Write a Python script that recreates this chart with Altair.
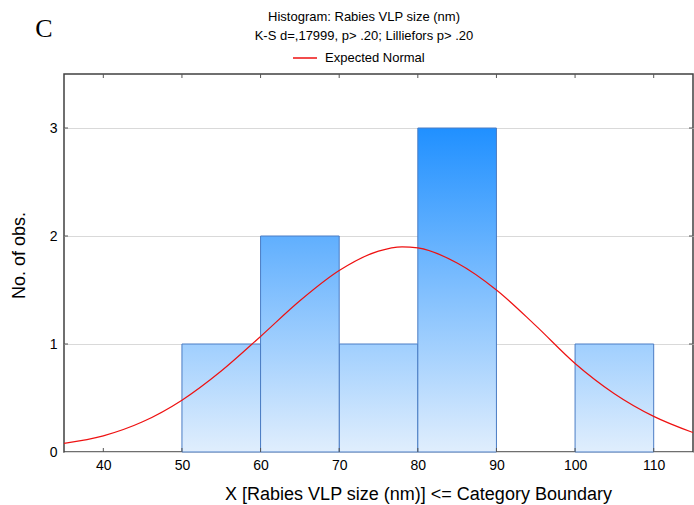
import altair as alt
import pandas as pd

# ---- data ----
bin_start = [50, 60, 70, 80, 90, 100]
bin_end = [60, 70, 80, 90, 100, 110]
counts = [1, 2, 1, 3, 0, 1]

curve_x = [35, 40, 45, 50, 55, 60, 65, 70, 75, 78, 80, 85, 90, 95, 100, 105, 110, 115]
curve_y = [0.08, 0.15, 0.28, 0.48, 0.75, 1.07, 1.40, 1.68, 1.86, 1.90, 1.89, 1.75,
           1.50, 1.17, 0.82, 0.54, 0.33, 0.18]

x_ticks = [40, 50, 60, 70, 80, 90, 100, 110]
y_ticks = [0, 1, 2, 3]

title_line1 = ["Histogram: Rabies VLP size (nm)"]
title_line2 = ["K-S d=,17999, p> .20; Lilliefors p> .20"]
panel_letter = ["C"]
legend_label = "Expected Normal"
x_title = "X [Rabies VLP size (nm)] <= Category Boundary"
y_title = "No. of obs."

# ---- layout / style ----
W, H = 629, 378
FONT = "Liberation Sans"
bottom_color = "#e0eefd"
top_colors = {1: "#a0cffe", 2: "#60affe", 3: "#2090ff"}

bars = pd.DataFrame({"start": bin_start, "end": bin_end, "count": counts})
curve = pd.DataFrame({"x": curve_x, "y": curve_y, "series": [legend_label] * len(curve_x)})

xscale = alt.Scale(domain=[35, 115], nice=False, zero=False)
yscale = alt.Scale(domain=[0, 3.5], nice=False, zero=True)

x_axis = alt.Axis(values=x_ticks, title=x_title, titleFont=FONT, titleFontSize=18,
                  titleFontWeight="normal", titleColor="#000", labelFont=FONT,
                  labelFontSize=14, labelColor="#000", labelPadding=6, ticks=False,
                  domain=False, grid=False, titleX=354, titleY=47, titleAlign="center",
                  titleBaseline="alphabetic", format="d")
y_axis = alt.Axis(values=y_ticks, title=y_title, titleFont=FONT, titleFontSize=18,
                  titleFontWeight="normal", titleColor="#000", labelFont=FONT,
                  labelFontSize=14, labelColor="#000", labelPadding=7, ticks=False,
                  domain=False, grid=True, gridColor="#d9d9d9", gridWidth=1,
                  titleX=-45, titleY=181, titleAngle=270, titleAlign="center",
                  titleBaseline="middle", format="d")

layers = []
for k, c in top_colors.items():
    grad = alt.LinearGradient(
        gradient="linear", x1=0, y1=1, x2=0, y2=0,
        stops=[alt.GradientStop(offset=0, color=bottom_color),
               alt.GradientStop(offset=1, color=c)])
    layers.append(
        alt.Chart(bars).transform_filter(alt.datum["count"] == k)
        .mark_rect(fill=grad, stroke="#4a7cc4", strokeWidth=1)
        .encode(x=alt.X("start:Q", scale=xscale, axis=x_axis),
                x2="end:Q",
                y=alt.Y("count:Q", scale=yscale, axis=y_axis),
                y2=alt.Y2(datum=0))
    )

line = alt.Chart(curve).mark_line(strokeWidth=1.2, interpolate="monotone", clip=True).encode(
    x=alt.X("x:Q", scale=xscale, axis=x_axis),
    y=alt.Y("y:Q", scale=yscale, axis=y_axis),
    color=alt.Color("series:N",
                    scale=alt.Scale(domain=[legend_label], range=["#ee1111"]),
                    legend=alt.Legend(title=None, orient="none", legendX=228, legendY=-29,
                                      symbolType="stroke", symbolSize=576,
                                      symbolStrokeWidth=1.5, labelFont=FONT,
                                      labelFontSize=13, labelColor="#000",
                                      labelOffset=7, padding=0)),
)
layers.append(line)

tick_df = pd.DataFrame({"v": x_ticks})
ytick_df = pd.DataFrame({"v": y_ticks[1:]})
tick_color = "#555555"
layers.append(alt.Chart(tick_df).mark_rule(color=tick_color).encode(
    x=alt.X("v:Q", scale=xscale, axis=x_axis), y=alt.value(0), y2=alt.value(4)))
layers.append(alt.Chart(tick_df).mark_rule(color=tick_color).encode(
    x=alt.X("v:Q", scale=xscale, axis=x_axis), y=alt.value(H), y2=alt.value(H - 4)))
layers.append(alt.Chart(ytick_df).mark_rule(color=tick_color).encode(
    y=alt.Y("v:Q", scale=yscale, axis=y_axis), x=alt.value(0), x2=alt.value(4)))
layers.append(alt.Chart(ytick_df).mark_rule(color=tick_color).encode(
    y=alt.Y("v:Q", scale=yscale, axis=y_axis), x=alt.value(W), x2=alt.value(W - 4)))

layers.append(alt.Chart(pd.DataFrame({"t": title_line1})).mark_text(
    font=FONT, fontSize=13, align="center", baseline="alphabetic", color="#000").encode(
    text="t:N", x=alt.value(300), y=alt.value(-53)))
layers.append(alt.Chart(pd.DataFrame({"t": title_line2})).mark_text(
    font=FONT, fontSize=13, align="center", baseline="alphabetic", color="#000").encode(
    text="t:N", x=alt.value(300), y=alt.value(-34)))
layers.append(alt.Chart(pd.DataFrame({"t": panel_letter})).mark_text(
    font="Liberation Serif", fontSize=26, align="center", baseline="alphabetic", color="#000").encode(
    text="t:N", x=alt.value(-20), y=alt.value(-37)))

chart = alt.layer(*layers).properties(
    width=W, height=H,
    autosize=alt.AutoSizeParams(type="none"),
    padding={"left": 64, "top": 74, "right": 1, "bottom": 53},
    background="white",
).configure_view(stroke="#404040", strokeWidth=1.5)

chart.save("out.html", embed_options={"renderer": "svg", "actions": False})
